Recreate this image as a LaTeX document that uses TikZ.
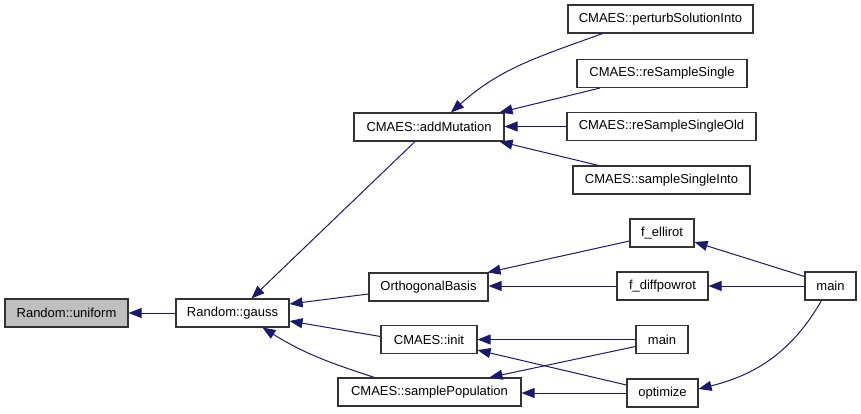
\documentclass[tikz,border=0pt]{standalone}
\usepackage{fontspec}
\setmainfont{Liberation Sans}
\usetikzlibrary{arrows.meta}
\definecolor{edgecol}{HTML}{191970}
\definecolor{boxline}{HTML}{333333}
\tikzset{
  box/.style={draw=boxline, line width=1.1pt, rectangle, minimum height=28pt, inner sep=0pt, fill=white,
    font=\fontsize{13}{15}\selectfont},
  edge/.style={draw=edgecol, line width=1pt, -{Triangle[length=13pt,width=10pt]}}
}
\begin{document}
\begin{tikzpicture}[x=1pt,y=-1pt]
\useasboundingbox (0,0) rectangle (861,413);
% nodes
\node[box, fill=black!25, minimum width=123pt] (uniform) at (66.5,313) {Random::uniform};
\node[box, minimum width=113pt] (gauss) at (232.5,313) {Random::gauss};
\node[box, minimum width=150pt] (addMutation) at (429,127) {CMAES::addMutation};
\node[box, minimum width=185pt] (perturb) at (660.5,19) {CMAES::perturbSolutionInto};
\node[box, minimum width=170pt] (reSS) at (662,73.5) {CMAES::reSampleSingle};
\node[box, minimum width=189pt] (reSSO) at (661.5,126.5) {CMAES::reSampleSingleOld};
\node[box, minimum width=177pt] (ssi) at (661.5,180) {CMAES::sampleSingleInto};
\node[box, minimum width=64pt] (fellirot) at (662,233) {f\_ellirot};
\node[box, minimum width=119pt] (ortho) at (428.5,287) {OrthogonalBasis};
\node[box, minimum width=91pt] (fdiff) at (662.5,286) {f\_diffpowrot};
\node[box, minimum width=51pt] (mainR) at (830.5,286) {main};
\node[box, minimum width=96pt] (init) at (429,339.5) {CMAES::init};
\node[box, minimum width=52pt] (mainM) at (662,339.5) {main};
\node[box, minimum width=183pt] (sampPop) at (429.5,392) {CMAES::samplePopulation};
\node[box, minimum width=71pt] (optimize) at (662.5,393) {optimize};
% edges
\draw[edge] (gauss.west) -- (uniform.east);
\draw[edge] ([xshift=-14pt]addMutation.south) -- ([xshift=19pt]gauss.north);
\draw[edge] ([yshift=-7pt]ortho.west) -- ([yshift=9pt]gauss.east);
\draw[edge] ([yshift=3pt]init.west) -- ([yshift=-8pt]gauss.east);
\draw[edge] ([xshift=-55pt]sampPop.north) to[out=162,in=-32] ([xshift=30pt]gauss.south);
\draw[edge] ([xshift=-58pt]perturb.south) to[out=200,in=42] ([xshift=22pt]addMutation.north);
\draw[edge] ([xshift=-62pt]reSS.south) -- ([xshift=-5pt]addMutation.north east);
\draw[edge] (reSSO.west) -- (reSSO.west -| addMutation.east);
\draw[edge] ([xshift=-63pt]ssi.north) -- ([xshift=-5pt]addMutation.south east);
\draw[edge] ([yshift=-8pt]fellirot.west) -- ([xshift=-1pt]ortho.north east);
\draw[edge] (fdiff.west) -- (fdiff.west -| ortho.east);
\draw[edge] ([yshift=-5pt]mainR.north west) -- ([yshift=-9pt]fellirot.east);
\draw[edge] (mainR.west) -- (fdiff.east);
\draw[edge] ([xshift=-9pt]mainR.south) to[out=-120,in=14] ([yshift=4pt]optimize.east);
\draw[edge] (mainM.west) -- (init.east);
\draw[edge] ([yshift=8pt]optimize.west) -- ([yshift=4pt]init.south east);
\draw[edge] ([yshift=-7pt]mainM.west) -- ([xshift=60pt]sampPop.north);
\draw[edge] (optimize.west) -- (optimize.west -| sampPop.east);
\end{tikzpicture}
\end{document}
